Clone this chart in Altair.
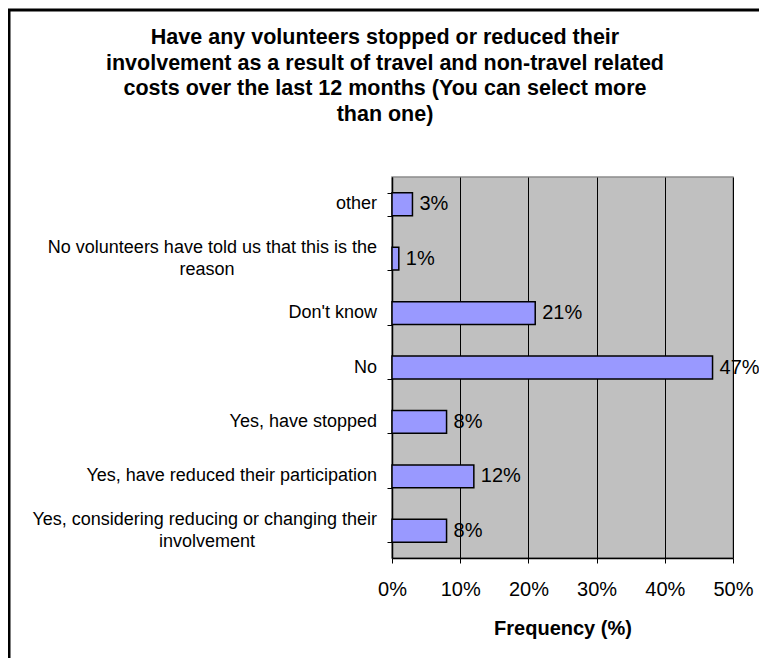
import altair as alt
import pandas as pd

categories = [
    "other",
    "No volunteers have told us that this is the reason",
    "Don't know",
    "No",
    "Yes, have stopped",
    "Yes, have reduced their participation",
    "Yes, considering reducing or changing their involvement",
]
label_line1 = [
    "other",
    "No volunteers have told us that this is the",
    "Don't know",
    "No",
    "Yes, have stopped",
    "Yes, have reduced their participation",
    "Yes, considering reducing or changing their",
]
label_line2 = ["", "reason", "", "", "", "", "involvement"]
values = [3, 1, 21, 47, 8, 12, 8]
x_ticks = [0, 10, 20, 30, 40, 50]
title_lines = [
    "Have any volunteers stopped or reduced their",
    "involvement as a result of travel and non-travel related",
    "costs over the last 12 months (You can select more",
    "than one)",
]

df = pd.DataFrame({
    "category": categories,
    "value": values,
    "line1": label_line1,
    "line2": label_line2,
    "nlines": [2 if l2 else 1 for l2 in label_line2],
})
FONT = "Liberation Sans"

y_scale = alt.Scale(paddingInner=0.58, paddingOuter=0.29)
y_enc = alt.Y(
    "category:N",
    sort=categories,
    scale=y_scale,
    axis=alt.Axis(
        title=None,
        labels=False,
        tickBand="extent",
        tickSize=5,
        tickColor="black",
        domainColor="black",
        domainWidth=1.5,
        grid=False,
    ),
)

x_enc = alt.X(
    "value:Q",
    scale=alt.Scale(domain=[0, 50], nice=False),
    axis=alt.Axis(
        values=x_ticks,
        labelExpr="datum.value + '%'",
        labelFont=FONT,
        labelFontSize=20,
        labelColor="black",
        labelPadding=16,
        labelFlush=False,
        tickSize=5,
        tickColor="black",
        domainColor="black",
        domainWidth=1.5,
        grid=True,
        gridColor="black",
        gridWidth=1,
        title="Frequency (%)",
        titleFont=FONT,
        titleFontSize=20,
        titleFontWeight="bold",
        titleColor="black",
        titlePadding=19,
    ),
)

y_plain = alt.Y("category:N", sort=categories)

bars = alt.Chart(df).mark_bar(color="#9999FF", stroke="black", strokeWidth=1.5).encode(
    x=x_enc, y=y_enc
)

labels = alt.Chart(df).transform_calculate(
    lbl="datum.value + '%'"
).mark_text(
    align="left", baseline="middle", dx=7, font=FONT, fontSize=20, color="black"
).encode(
    x="value:Q", y=y_plain, text="lbl:N"
)

single_lines = alt.Chart(df).transform_filter("datum.nlines == 1").mark_text(
    align="right", baseline="middle", font=FONT, fontSize=18, color="black"
).encode(
    x=alt.value(-15), y=y_plain, text="line1:N"
)

first_lines = alt.Chart(df).transform_filter("datum.nlines == 2").mark_text(
    align="right", baseline="middle", dy=-11, font=FONT, fontSize=18, color="black"
).encode(
    x=alt.value(-15), y=y_plain, text="line1:N"
)

second_lines = alt.Chart(df).transform_filter("datum.nlines == 2").mark_text(
    align="center", baseline="middle", dy=11, font=FONT, fontSize=18, color="black"
).encode(
    x=alt.value(-185), y=y_plain, text="line2:N"
)

one = pd.DataFrame({"k": [0]})
frame_left = alt.Chart(one).mark_rule(color="black", strokeWidth=3).encode(
    x=alt.value(-383), y=alt.value(-167), y2=alt.value(600)
)
frame_top = alt.Chart(one).mark_rule(color="black", strokeWidth=3).encode(
    x=alt.value(-384.5), x2=alt.value(420), y=alt.value(-167)
)
title = alt.Chart(one).mark_text(
    text=title_lines,
    font=FONT,
    fontSize=21.5,
    fontWeight="bold",
    color="black",
    align="center",
    baseline="middle",
    lineHeight=25.7,
).encode(x=alt.value(-7), y=alt.value(-139))

chart = alt.layer(
    bars, labels, single_lines, first_lines, second_lines, frame_left, frame_top, title
).properties(
    width=341,
    height=381,
    autosize=alt.AutoSizeParams(type="none"),
    padding={"left": 384, "top": 169, "right": 26, "bottom": 100},
).configure(
    background="white",
    view=alt.ViewConfig(fill="#C0C0C0", stroke="#8c8c8c", strokeWidth=1.5),
)

chart.save("out.html", embed_options={"renderer": "svg", "actions": False})
